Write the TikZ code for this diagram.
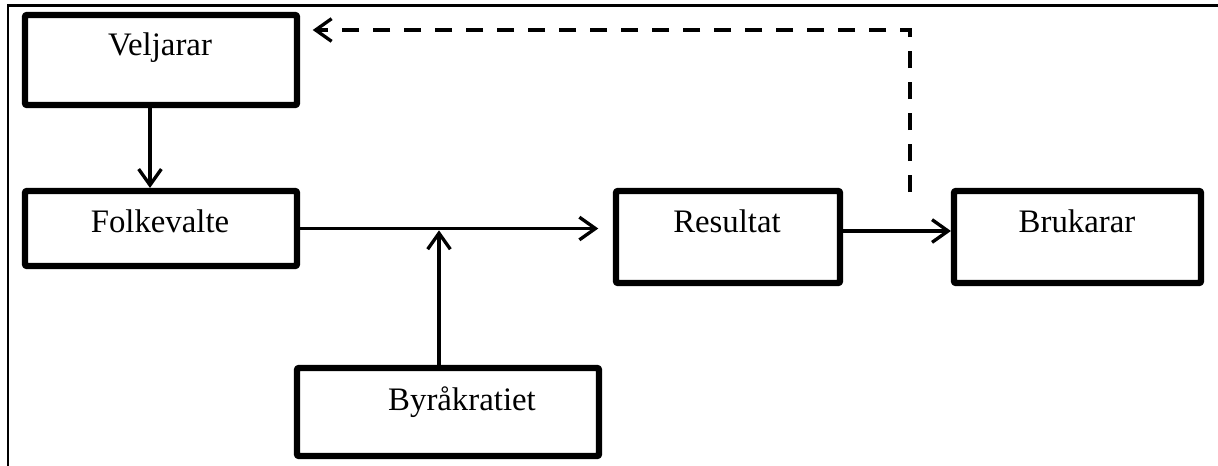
\documentclass[tikz,border=0pt]{standalone}
\usepackage{fontspec}
\setmainfont{Liberation Serif}
\usetikzlibrary{arrows.meta}
\begin{document}
\begin{tikzpicture}[x=0.75pt,y=-0.75pt,
  box/.style={draw=black, line width=4.6pt, rectangle, inner sep=0pt, line join=round, rounded corners=0.8pt},
  lbl/.style={anchor=base, inner sep=0pt, font=\fontsize{24.6}{29}\selectfont},
  arr/.style={line width=2.5pt, -{Straight Barb[length=12pt,width=17pt,line width=2.5pt]}},
  dasharr/.style={arr, dash pattern=on 12.75pt off 10.5pt},
  frame/.style={line width=2pt}]
\useasboundingbox (0,0) rectangle (1218,465);
% outer frame (cut off at right and bottom)
\draw[frame] (8,470) -- (8,5.5) -- (1225,5.5);
% boxes
\node[box, minimum width=204pt, minimum height=67.5pt] (velj) at (161,60) {};
\node[box, minimum width=204pt, minimum height=56.25pt] (folk) at (161,228.5) {};
\node[box, minimum width=168pt, minimum height=69pt] (res) at (728,237) {};
\node[box, minimum width=185.25pt, minimum height=69pt] (bruk) at (1077.5,237) {};
\node[box, minimum width=226.5pt, minimum height=66pt] (byr) at (448,412) {};
% labels
\node[lbl] (veljT) at (160,55) {Veljarar};
\node[lbl] (folkT) at (160,232) {Folkevalte};
\node[lbl] (resT) at (727,232) {Resultat};
\node[lbl] (brukT) at (1077,232) {Brukarar};
\node[lbl] (byrT) at (462,410) {Byråkratiet};
% connectors
\coordinate (j) at (439,229);
\coordinate (d0) at (910,192);
\draw[arr] ([xshift=-8.25pt]velj.south) -- ([xshift=-8.25pt]folk.north);
\draw[arr, shorten >=11pt] (folk.east) -- (folk.east -| res.west);
\draw[arr, shorten >=1pt] (byr.north -| j) -- (j);
\draw[arr] ([yshift=4.5pt]res.east) -- ([yshift=4.5pt]bruk.west);
\draw[dasharr, shorten >=9.5pt] (d0) |- ([yshift=22.5pt]velj.east);
\end{tikzpicture}
\end{document}
